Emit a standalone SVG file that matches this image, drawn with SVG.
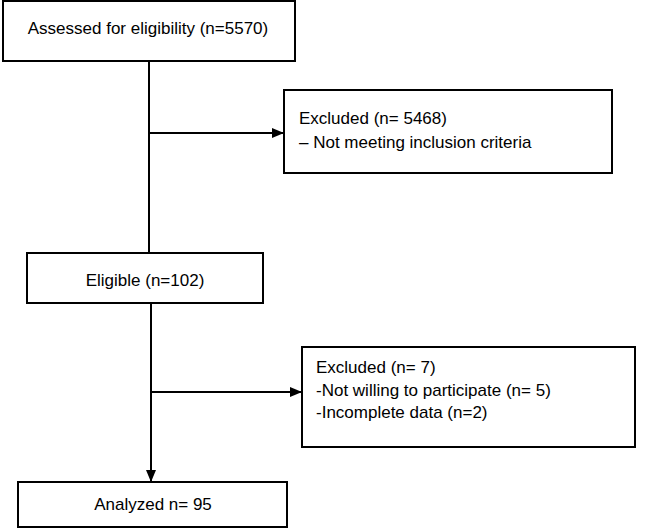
<svg xmlns="http://www.w3.org/2000/svg" width="646" height="529" viewBox="0 0 646 529">
<style>
.box{fill:#fff;stroke:#000;stroke-width:2}
.t{font-family:"Liberation Sans",Arial,sans-serif;font-size:17px;fill:#000}
.c{text-anchor:middle}
.ln{stroke:#000;stroke-width:2;fill:none}
</style>
<defs>
<marker id="ah" viewBox="0 0 12 10" refX="12" refY="5" markerWidth="12" markerHeight="10" markerUnits="userSpaceOnUse" orient="auto">
<path d="M0,0 L12,5 L0,10 Z" fill="#000"/>
</marker>
</defs>
<rect width="646" height="529" fill="#fff"/>
<g id="connectors">
<line class="ln" x1="149" y1="61" x2="149" y2="253"/>
<line class="ln" x1="149" y1="133" x2="284" y2="133" marker-end="url(#ah)"/>
<line class="ln" x1="151" y1="303" x2="151" y2="482" marker-end="url(#ah)"/>
<line class="ln" x1="151" y1="392" x2="302" y2="392" marker-end="url(#ah)"/>
</g>
<g id="assessed">
<rect class="box" x="3" y="1" width="292" height="60"/>
<text class="t c" x="148" y="34">Assessed for eligibility (n=5570)</text>
</g>
<g id="excluded1">
<rect class="box" x="284" y="90" width="328" height="83"/>
<text class="t" x="299" y="124">Excluded (n= 5468)</text>
<text class="t" x="299" y="148">– Not meeting inclusion criteria</text>
</g>
<g id="eligible">
<rect class="box" x="27" y="253" width="236" height="50"/>
<text class="t c" x="145" y="286">Eligible (n=102)</text>
</g>
<g id="excluded2">
<rect class="box" x="302" y="347" width="333" height="100"/>
<text class="t" x="316" y="373">Excluded (n= 7)</text>
<text class="t" x="316" y="396">-Not willing to participate (n= 5)</text>
<text class="t" x="316" y="418">-Incomplete data (n=2)</text>
</g>
<g id="analyzed">
<rect class="box" x="18" y="482" width="269" height="45"/>
<text class="t c" x="153" y="510">Analyzed n= 95</text>
</g>
</svg>
